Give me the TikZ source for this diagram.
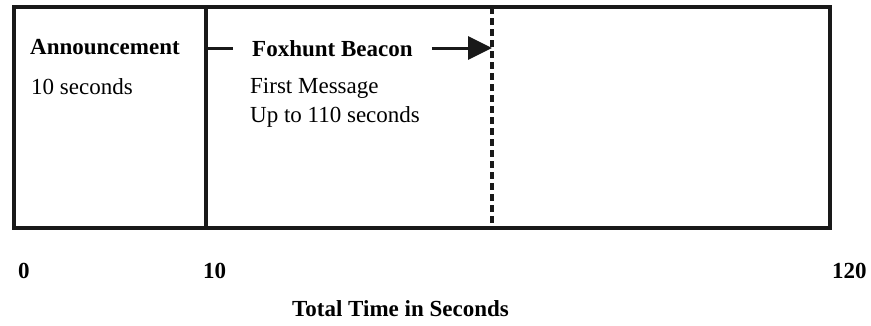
\documentclass[tikz,border=0pt]{standalone}
\usepackage{fontspec}
\setmainfont{Liberation Serif}
\usetikzlibrary{arrows.meta, positioning}

\begin{document}
\begin{tikzpicture}[
    x=1pt, y=-1pt,
    legenda/.style={
        anchor=base west,
        inner sep=0pt,
        font=\fontsize{23}{28}\selectfont
    },
    titulo/.style={
        legenda,
        font=\fontsize{23}{28}\selectfont\bfseries
    },
    borda/.style={
        line width=3.6pt,
        draw=black!90
    },
    flecha/.style={
        line width=3pt,
        draw=black!90
    }
]
\useasboundingbox (0,0) rectangle (871,325);

% Caixa
\draw[borda] (14,7) rectangle (830,228);
\draw[borda] (206,7) -- (206,228);
\draw[line width=3.6pt, draw=black!90, dash pattern=on 7pt off 4pt] (492,7) -- (492,228);

% Announcement
\node[titulo] (anuncio) at (30,54) {Announcement};
\node[legenda] (anunciotempo) at (31,94) {10 seconds};

% Foxhunt Beacon
\node[titulo, inner xsep=19pt] (beacon) at (233,56) {Foxhunt Beacon};
\node[legenda] (mensagem) at (250,93) {First Message};
\node[legenda] (beacontempo) at (250,122) {Up to 110 seconds};

% Setas
\coordinate (sep) at (206,48);
\coordinate (corte) at (492,48);
\draw[flecha] (sep) -- (sep -| beacon.west);
\draw[flecha, -{Triangle[length=24pt, width=23pt]}] (sep -| beacon.east) -- (corte);

% Escala
\node[titulo] (zero) at (18,278) {0};
\node[titulo] (dez) at (203,278) {10};
\node[titulo] (fim) at (832,278) {120};
\node[titulo] (eixo) at (292,316) {Total Time in Seconds};

\end{tikzpicture}
\end{document}
